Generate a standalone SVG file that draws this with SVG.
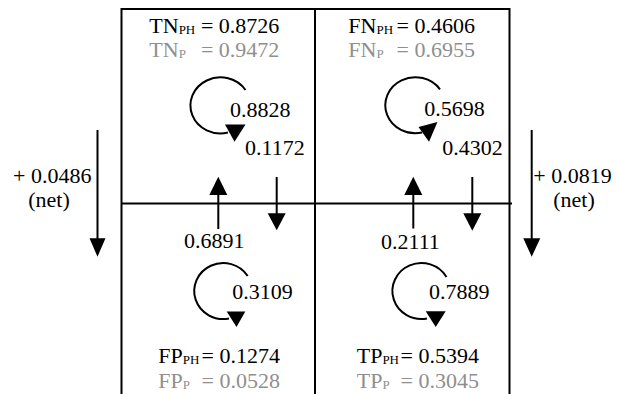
<svg xmlns="http://www.w3.org/2000/svg" width="617" height="394" viewBox="0 0 617 394">
<style>
text{font-family:"Liberation Serif","Times New Roman",serif;font-size:22px;fill:#000}
.g{fill:#8f8f8f}
.sub{font-size:13px}
.grid{stroke:#000;stroke-width:2;fill:none}
.ln{stroke:#000;stroke-width:2;fill:none}
.hd{fill:#000;stroke:none}
</style>
<rect width="617" height="394" fill="#fff"/>
<g id="grid">
<path class="grid" d="M121.5,394 V9 H509.5 V394 M315,9 V394 M121.5,203.5 H512"/>
</g>
<g id="TN">
<text x="149.3" y="33.3">TN<tspan class="sub" dy="1">PH</tspan></text>
<text x="279.3" y="33.3" text-anchor="end">= 0.8726</text>
<text class="g" x="149.3" y="56.7">TN<tspan class="sub" dy="1">P</tspan></text>
<text class="g" x="279.3" y="56.7" text-anchor="end">= 0.9472</text>
</g>
<g id="FN">
<text x="348.3" y="33.3">FN<tspan class="sub" dy="1">PH</tspan></text>
<text x="475" y="33.3" text-anchor="end">= 0.4606</text>
<text class="g" x="348.3" y="56.7">FN<tspan class="sub" dy="1">P</tspan></text>
<text class="g" x="475" y="56.7" text-anchor="end">= 0.6955</text>
</g>
<g id="FP">
<text x="158.3" y="363.3">FP<tspan class="sub" dy="1">PH</tspan></text>
<text x="280" y="363.3" text-anchor="end">= 0.1274</text>
<text class="g" x="158.3" y="388.3">FP<tspan class="sub" dy="1">P</tspan></text>
<text class="g" x="280" y="388.3" text-anchor="end">= 0.0528</text>
</g>
<g id="TP">
<text x="356.7" y="363.3">TP<tspan class="sub" dy="1">PH</tspan></text>
<text x="479" y="363.3" text-anchor="end">= 0.5394</text>
<text class="g" x="356.7" y="388.3">TP<tspan class="sub" dy="1">P</tspan></text>
<text class="g" x="479" y="388.3" text-anchor="end">= 0.3045</text>
</g>
<g id="connectors">
<!-- self loops -->
<path class="ln" d="M245.5,90 A30 28 0 1 0 228,132.5"/>
<polygon class="hd" points="225,124.5 245.5,124.5 234.5,141.7"/>
<path class="ln" d="M440,89.3 A30 28 0 1 0 422,132.5"/>
<polygon class="hd" points="418.5,127 437.5,122 429,141.7"/>
<path class="ln" d="M247.7,276 A29 28 0 1 0 229,318.5"/>
<polygon class="hd" points="226.7,311.5 245.3,311.5 236.5,327"/>
<path class="ln" d="M446.5,277 A29 28 0 1 0 427,318.5"/>
<polygon class="hd" points="425.7,311.3 445.7,311.3 435.7,327"/>
<!-- vertical transitions -->
<path class="ln" d="M218.3,194 V229"/>
<polygon class="hd" points="209.3,195 227.3,195 218.3,176.7"/>
<path class="ln" d="M276.7,177 V214"/>
<polygon class="hd" points="267.7,213.3 285.7,213.3 276.7,230.3"/>
<path class="ln" d="M413.3,194 V228.5"/>
<polygon class="hd" points="404.3,195 422.3,195 413.3,176.7"/>
<path class="ln" d="M472.3,177 V214"/>
<polygon class="hd" points="463.3,213.3 481.3,213.3 472.3,230.7"/>
<!-- net arrows -->
<path class="ln" d="M97.5,130 V239"/>
<polygon class="hd" points="89.5,238.3 105.5,238.3 97.5,256.7"/>
<path class="ln" d="M531.7,130 V239"/>
<polygon class="hd" points="523.3,238.3 540.3,238.3 531.7,256.7"/>
</g>
<g id="labels">
<text x="230" y="116.5">0.8828</text>
<text x="245" y="155">0.1172</text>
<text x="424.3" y="116">0.5698</text>
<text x="442.3" y="155">0.4302</text>
<text x="184" y="248.3">0.6891</text>
<text x="232.3" y="299">0.3109</text>
<text x="381" y="249">0.2111</text>
<text x="429" y="299">0.7889</text>
<text x="91.5" y="183.3" text-anchor="end">+ 0.0486</text>
<text x="49" y="206.5" text-anchor="middle">(net)</text>
<text x="533.3" y="183.3">+ 0.0819</text>
<text x="574" y="206.5" text-anchor="middle">(net)</text>
</g>
</svg>
